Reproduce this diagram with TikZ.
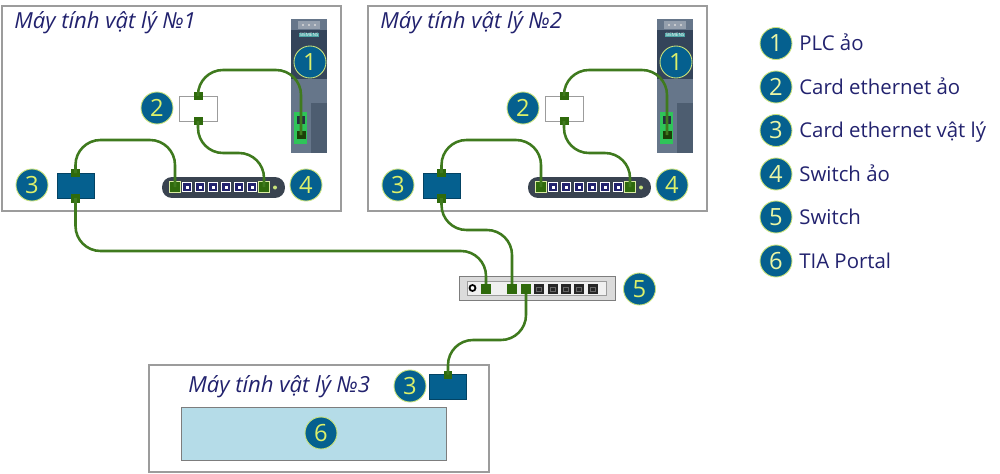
\documentclass[tikz,border=0pt]{standalone}
\usepackage{fontspec}
\setmainfont{Open Sans}
\definecolor{frameGray}{HTML}{9C9C9C}
\definecolor{badgeBlue}{HTML}{05608F}
\definecolor{badgeLine}{HTML}{C9E27A}
\definecolor{badgeText}{HTML}{DDF06A}
\definecolor{legendText}{HTML}{22226E}
\definecolor{cableGreen}{HTML}{3F7A1E}
\definecolor{portGreen}{HTML}{2F6A0C}
\definecolor{plcGray}{HTML}{66768A}
\definecolor{plcDark}{HTML}{34445A}
\definecolor{plcLow}{HTML}{4D5D70}
\definecolor{plcGreen}{HTML}{2FC459}
\definecolor{tiaBlue}{HTML}{B5DCE8}
\definecolor{vswitchGray}{HTML}{394350}
\tikzset{
	machine/.style={draw=frameGray,line width=0.9pt,fill=white,minimum width=#1,anchor=north west,inner sep=0pt,outer sep=0pt},
	badge/.style={circle,draw=badgeLine,line width=0.5pt,fill=badgeBlue,text=badgeText,minimum size=0.64cm,inner sep=0pt,font=\fontsize{13.5}{15}\selectfont},
	title/.style={text=legendText,font=\fontsize{12.6}{14}\selectfont\itshape,anchor=base west,inner sep=0pt},
	legend/.style={text=legendText,font=\fontsize{11.6}{14}\selectfont,anchor=base west,inner sep=0pt},
	port/.style={fill=portGreen,minimum size=0.18cm,inner sep=0pt},
	lan/.style={draw=badgeBlue!70!black,fill=badgeBlue,minimum width=0.74cm,minimum height=0.5cm,inner sep=0pt},
	cable/.style={draw=cableGreen,line width=1.45pt,rounded corners=0.5cm},
}
\begin{document}
\begin{tikzpicture}[x=0.02cm,y=-0.02cm]
	\useasboundingbox (0,0) rectangle (1000,473);

	% two machines with the same content
	\foreach \m/\dx/\num in {a/0/1,b/366/2} {
		\begin{scope}[shift={(\dx,0)}]
			\node (box\m) [machine=6.78cm,minimum height=4.1cm] at (2,6) {};
			\node (title\m) [title] at (14,29) {Máy tính vật lý №\num};

			% PLC
			\node (plc\m) [fill=plcGray,minimum width=0.72cm,minimum height=2.68cm,inner sep=0pt] at (309,86) {};
			\fill[plcDark] (291,30) rectangle (327,79);
			\fill[plcLow] (311,103) rectangle (327,153);
			\fill[plcGray!70!white] (298,21) rectangle (320,29);
			\foreach \x in {303,309,315} {\fill[white!70!gray] (\x,25) circle (1.2);}
			\node (brand\m) [fill=teal!70!white,text=white,font=\fontsize{2.6}{3}\selectfont,inner sep=0.3pt,minimum width=0.38cm] at (309,35) {SIEMENS};
			\fill[plcGreen] (294,112) rectangle (307,144);
			\fill[plcDark!70!black] (297,115.5) rectangle (305,123.5);
			\node (plcport\m) [port,minimum size=0.18cm,fill=portGreen!60!black] at (301,135) {};
			\node (one\m) [badge] at (310,62) {1};

			% virtual card
			\node (vcard\m) [draw=frameGray,fill=white,minimum width=0.76cm,minimum height=0.5cm,inner sep=0pt] at (198,108.5) {};
			\node (vtop\m) [port] at (198,96) {};
			\node (vbot\m) [port] at (198,121) {};
			\node (two\m) [badge] at (157,108) {2};

			% physical card
			\node (card\m) [lan] at (75.5,185.5) {};
			\node (ctop\m) [port] at (75.5,173) {};
			\node (cbot\m) [port] at (75.5,198) {};
			\node (three\m) [badge] at (32,185) {3};

			% virtual switch
			\node (vsw\m) [fill=vswitchGray,rounded corners=0.2cm,minimum width=2.46cm,minimum height=0.42cm,inner sep=0pt] at (223.5,187.5) {};
			\foreach \x in {187,200,213,226,239,252} {
				\node (vp\m\x) [draw=white,line width=0.7pt,fill=legendText,minimum size=0.19cm,inner sep=0pt] at (\x,187) {};
				\fill[white] (\x-1.5,185.5) rectangle (\x+1.5,188.5);
			}
			\node (vleft\m) [port,draw=badgeLine!70!white,line width=0.5pt,minimum size=0.22cm,fill=portGreen] at (175,187) {};
			\node (vright\m) [port,draw=badgeLine!70!white,line width=0.5pt,minimum size=0.22cm,fill=portGreen] at (264,187) {};
			\fill[badgeLine] (275,187.5) circle (2);
			\node (four\m) [badge] at (306,185) {4};

			% cables inside the machine
			\coordinate (up\m) at (250,70);
			\coordinate (low\m) at (230,153);
			\coordinate (left\m) at (120,140);
			\draw[cable] (vtop\m.center) -- (vtop\m.center |- up\m) -- (plcport\m.center |- up\m) -- (plcport\m.center);
			\draw[cable] (vbot\m.center) -- (vbot\m.center |- low\m) -- (vright\m.center |- low\m) -- (vright\m.center);
			\draw[cable] (ctop\m.center) -- (ctop\m.center |- left\m) -- (vleft\m.center |- left\m) -- (vleft\m.center);
		\end{scope}
	}

	% hardware switch
	\node (sw) [draw=frameGray!80!black,fill=black!14,minimum width=3.12cm,minimum height=0.48cm,inner sep=0pt] at (537,288) {};
	\node (swin) [draw=frameGray,line width=0.4pt,fill=black!6,minimum width=2.78cm,minimum height=0.27cm,inner sep=0pt] at (536.5,288.5) {};
	\node (jack) [circle,draw=black,line width=1pt,fill=white,minimum size=0.12cm,inner sep=0pt] at (472.5,288) {};
	\foreach \x in {539,552.5,566,579,592.5} {
		\node (sp\x) [fill=black!85,minimum size=0.2cm,inner sep=0pt] at (\x,288.5) {};
		\draw[black!60,line width=0.25pt] (\x-2.5,287) rectangle (\x+2.5,291);
	}
	\node (sp1) [port,minimum size=0.2cm] at (486,288.5) {};
	\node (sp2) [port,minimum size=0.2cm] at (512,288.5) {};
	\node (sp3) [port,minimum size=0.2cm] at (526,288.5) {};
	\node (five) [badge] at (639.5,289) {5};

	% third machine
	\node (boxc) [machine=6.8cm,minimum height=2.14cm] at (149,365) {};
	\node (titlec) [title] at (188,392) {Máy tính vật lý №3};
	\node (tia) [draw=frameGray!80!black,fill=tiaBlue,minimum width=5.3cm,minimum height=1.06cm,inner sep=0pt] at (313.5,433.5) {};
	\node (six) [badge] at (321,433) {6};
	\node (cardc) [lan] at (448,386.5) {};
	\node (ctopc) [port,minimum size=0.16cm] at (448,374.5) {};
	\node (threec) [badge] at (410,386) {3};

	% cables to the switch
	\coordinate (bendone) at (300,251);
	\coordinate (bendtwo) at (480,230);
	\coordinate (bendthree) at (480,340);
	\draw[cable] (cbota.center) -- (cbota.center |- bendone) -- (sp1.center |- bendone) -- (sp1.center);
	\draw[cable] (cbotb.center) -- (cbotb.center |- bendtwo) -- (sp2.center |- bendtwo) -- (sp2.center);
	\draw[cable] (sp3.center) -- (sp3.center |- bendthree) -- (ctopc.center |- bendthree) -- (ctopc.center);
	\node (sp1top) [port,minimum size=0.2cm] at (sp1) {};
	\node (sp2top) [port,minimum size=0.2cm] at (sp2) {};
	\node (sp3top) [port,minimum size=0.2cm] at (sp3) {};

	% legend
	\foreach \i/\y/\txt in {1/43.5/PLC ảo,2/87/Card ethernet ảo,3/130.5/Card ethernet vật lý,4/174/Switch ảo,5/217/Switch,6/261/TIA Portal} {
		\node (key\i) [badge,text=badgeText!60!white] at (776,\y) {\i};
		\node (txt\i) [legend] at (799,\y+7) {\txt};
	}
\end{tikzpicture}
\end{document}
